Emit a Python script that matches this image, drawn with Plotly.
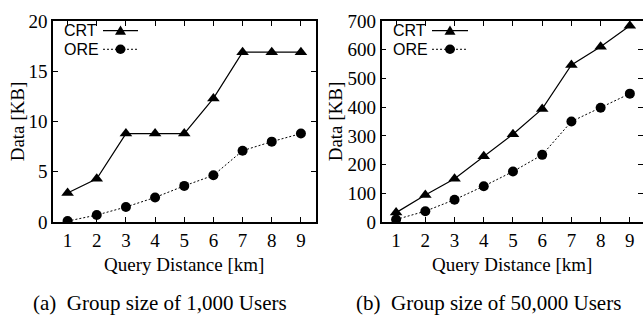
import plotly.graph_objects as go

W, H = 643, 326

# ---- data ----
distance = [1, 2, 3, 4, 5, 6, 7, 8, 9]
crt_1k = [2.9, 4.3, 8.8, 8.8, 8.8, 12.3, 16.9, 16.9, 16.9]
ore_1k = [0.1, 0.7, 1.5, 2.45, 3.6, 4.65, 7.1, 8.0, 8.8]
crt_50k = [33, 94, 151, 229, 306, 394, 547, 610, 683]
ore_50k = [9, 38, 78, 125, 176, 234, 350, 398, 447]
series_names = ["CRT", "ORE"]
x_title = "Query Distance [km]"
y_title = "Data [KB]"
captions = ["(a)  Group size of 1,000 Users", "(b)  Group size of 50,000 Users"]


def px(x):
    return x / W


def py(y):
    return 1 - y / H


fig = go.Figure()

crt_style = dict(mode="lines+markers", line=dict(color="black", width=1.2),
                 marker=dict(symbol="triangle-up", size=11, color="black"))
ore_style = dict(mode="lines+markers", line=dict(color="black", width=1, dash="2px,2px"),
                 marker=dict(symbol="circle", size=10, color="black"))

fig.add_trace(go.Scatter(x=distance, y=crt_1k, name=series_names[0], xaxis="x", yaxis="y", showlegend=False, **crt_style))
fig.add_trace(go.Scatter(x=distance, y=ore_1k, name=series_names[1], xaxis="x", yaxis="y", showlegend=False, **ore_style))
fig.add_trace(go.Scatter(x=distance, y=crt_50k, name=series_names[0], xaxis="x2", yaxis="y2", showlegend=False, **crt_style))
fig.add_trace(go.Scatter(x=distance, y=ore_50k, name=series_names[1], xaxis="x2", yaxis="y2", showlegend=False, **ore_style))
# invisible trace to carry the right-side tick-only axis of panel (b)
fig.add_trace(go.Scatter(x=distance, y=crt_50k, xaxis="x2", yaxis="y3", showlegend=False,
                         mode="markers", marker=dict(opacity=0), hoverinfo="skip"))

tickfont = dict(family="Liberation Serif", size=19, color="black")
axis_common = dict(showline=True, linecolor="black", linewidth=1.5, mirror="ticks",
                   ticks="inside", ticklen=5, tickwidth=1, tickcolor="black",
                   showgrid=False, zeroline=False, tickfont=tickfont)

plot_top, plot_bot = 11.7, 226.7
left_dom = [px(53), px(315.5)]
right_dom = [px(381.5), 1.0]
ydom = [py(plot_bot), py(plot_top)]

y2_common = dict(axis_common)
y2_common["mirror"] = False

fig.update_layout(
    width=W, height=H,
    margin=dict(l=0, r=0, t=0, b=0),
    paper_bgcolor="white", plot_bgcolor="white",
    xaxis=dict(domain=left_dom, range=[0.5, 9.5], tickvals=distance, anchor="y", **axis_common),
    yaxis=dict(domain=ydom, range=[0, 20], dtick=5, anchor="x", **axis_common),
    xaxis2=dict(domain=right_dom, range=[0.5, 9.45], tickvals=distance, anchor="y2", **axis_common),
    yaxis2=dict(domain=ydom, range=[0, 700], dtick=100, anchor="x2", **y2_common),
    yaxis3=dict(domain=ydom, range=[0, 700], dtick=100, anchor="x2", overlaying="y2", side="right",
                showline=False, ticks="inside", ticklen=5, tickwidth=1, tickcolor="black",
                showticklabels=False, showgrid=False, zeroline=False),
)

titlefont = dict(family="Liberation Serif", size=19, color="black")
capfont = dict(family="Liberation Serif", size=21, color="black")

annotations = []
shapes = []
for cx, ylab_x in [((53 + 315.5) / 2, 17), ((381.5 + 643) / 2, 335)]:
    annotations.append(dict(text=x_title, x=px(cx), y=py(272), xref="paper", yref="paper",
                            xanchor="center", yanchor="middle", showarrow=False, font=titlefont))
    annotations.append(dict(text=y_title, x=px(ylab_x), y=py(119), xref="paper", yref="paper",
                            xanchor="center", yanchor="middle", showarrow=False, font=titlefont,
                            textangle=-90))

annotations.append(dict(text=captions[0], x=px(160), y=py(313), xref="paper", yref="paper",
                        xanchor="center", yanchor="middle", showarrow=False, font=capfont))
annotations.append(dict(text=captions[1], x=px(488), y=py(313), xref="paper", yref="paper",
                        xanchor="center", yanchor="middle", showarrow=False, font=capfont))

# ---- manual legends (label left, sample right, gnuplot style) ----
legfont = dict(family="Liberation Sans", size=16, color="black")
for text_x, line_x0, line_x1 in [(62, 103, 138), (391, 432, 468)]:
    for i, (name, dash, sym) in enumerate([(series_names[0], "solid", "tri"), (series_names[1], "2px,2px", "circ")]):
        yy = 22 + 20 * i
        annotations.append(dict(text=name, x=px(text_x), y=py(yy), xref="paper", yref="paper",
                                xanchor="left", yanchor="middle", showarrow=False, font=legfont))
        shapes.append(dict(type="line", xref="paper", yref="paper", x0=px(line_x0), x1=px(line_x1),
                           y0=py(yy), y1=py(yy), line=dict(color="black", width=1.2 if dash == "solid" else 1, dash=dash)))
        mx = (line_x0 + line_x1) / 2
        if sym == "tri":
            path = "M {} {} L {} {} L {} {} Z".format(px(mx - 5.5), py(yy + 4.5), px(mx + 5.5), py(yy + 4.5), px(mx), py(yy - 5.5))
            shapes.append(dict(type="path", xref="paper", yref="paper", path=path,
                               fillcolor="black", line=dict(color="black", width=0)))
        else:
            shapes.append(dict(type="circle", xref="paper", yref="paper", x0=px(mx - 5), x1=px(mx + 5),
                               y0=py(yy + 5), y1=py(yy - 5), fillcolor="black", line=dict(color="black", width=0)))

fig.update_layout(annotations=annotations, shapes=shapes)

fig.write_html("out.html")
